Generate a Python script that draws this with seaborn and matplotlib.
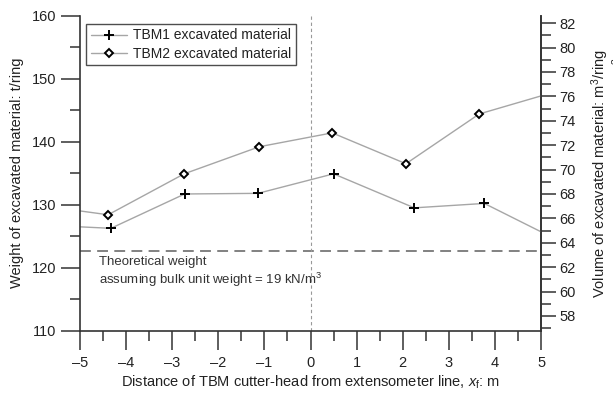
import matplotlib
matplotlib.use("Agg")
import matplotlib.pyplot as plt
from matplotlib.ticker import MultipleLocator
from matplotlib.lines import Line2D
import seaborn as sns
import pandas as pd

# Excavated material per ring (t/ring); end points lie just outside the axis range
tbm1_x = [-5.9, -4.33, -2.73, -1.14, 0.50, 2.25, 3.77, 5.3]
tbm1_w = [126.8, 126.25, 131.7, 131.8, 134.9, 129.5, 130.2, 124.6]
tbm2_x = [-5.99, -4.39, -2.74, -1.11, 0.47, 2.07, 3.66, 5.25]
tbm2_w = [130.0, 128.4, 134.9, 139.2, 141.4, 136.5, 144.4, 147.8]
theoretical_weight = 122.7
bulk_density = 19 / 9.81  # t/m3 for 19 kN/m3

series_labels = ["TBM1 excavated material", "TBM2 excavated material"]

sns.set_style("ticks")
plt.rcParams["font.family"] = ["Liberation Sans", "DejaVu Sans"]
plt.rcParams["mathtext.fontset"] = "custom"
plt.rcParams["mathtext.rm"] = "Liberation Sans"
plt.rcParams["mathtext.it"] = "Liberation Sans:italic"

fig = plt.figure(figsize=(6.13, 3.96), dpi=100)
ax = fig.add_axes([0.1305, 0.1649, 0.7521, 0.7955])

line_col = "#a6a6a6"
plus_kw = dict(marker="+", markersize=7.5, markeredgewidth=1.4,
               markeredgecolor="black", markerfacecolor="black")
diam_kw = dict(marker="D", markersize=4.3, markeredgewidth=1.4,
               markeredgecolor="black", markerfacecolor="white")

df1 = pd.DataFrame({"x": tbm1_x, "w": tbm1_w})
df2 = pd.DataFrame({"x": tbm2_x, "w": tbm2_w})
sns.lineplot(data=df1, x="x", y="w", ax=ax, color=line_col, lw=1.0, sort=False, **plus_kw)
sns.lineplot(data=df2, x="x", y="w", ax=ax, color=line_col, lw=1.0, sort=False, **diam_kw)

ax.axhline(theoretical_weight, color="#777777", lw=1.3, ls=(0, (6, 3.5)), zorder=1)
ax.axvline(0, color="#999999", lw=0.8, ls=(0, (3, 2.5)), zorder=1)

ax.text(-4.59, 121.8, "Theoretical weight\nassuming bulk unit weight = 19 kN/m$^3$",
        fontsize=9.5, color="#333333", va="top", ha="left", linespacing=1.15)

ax.set_xlim(-5, 5)
ax.set_ylim(110, 160)
ax.xaxis.set_major_locator(MultipleLocator(1))
ax.xaxis.set_minor_locator(MultipleLocator(0.5))
ax.yaxis.set_major_locator(MultipleLocator(10))
ax.yaxis.set_minor_locator(MultipleLocator(5))
ax.set_xticklabels([f"{int(v)}".replace("-", "\u2013") for v in ax.get_xticks()])

ax.spines["top"].set_visible(False)
for s in ("left", "bottom", "right"):
    ax.spines[s].set_color("#333333")
    ax.spines[s].set_linewidth(1.2)

ax.tick_params(which="major", direction="out", length=14, width=1.1,
               labelsize=10.5, color="#333333", labelcolor="#222222", pad=3)
ax.tick_params(which="minor", direction="out", length=7, width=1.1, color="#333333")
ax.tick_params(axis="x", which="major", length=14, pad=4)

ax.set_xlabel("Distance of TBM cutter-head from extensometer line, $\\it{x}_\\mathrm{f}$: m",
              fontsize=10.5, color="#222222", labelpad=3)
ax.set_ylabel("Weight of excavated material: t/ring", fontsize=10.5, color="#222222",
              labelpad=6)

sec = ax.secondary_yaxis("right", functions=(lambda w: w / bulk_density,
                                             lambda v: v * bulk_density))
sec.yaxis.set_major_locator(MultipleLocator(2))
sec.yaxis.set_minor_locator(MultipleLocator(1))
sec.tick_params(which="major", direction="out", length=11, width=1.1,
                labelsize=10.5, color="#333333", labelcolor="#222222", pad=2)
sec.tick_params(which="minor", direction="out", length=7, width=1.1, color="#333333")
sec.spines["right"].set_color("#333333")
sec.spines["right"].set_linewidth(1.2)
sec.set_ylabel("Volume of excavated material: m$^3$/ring\n"
               "(assuming bulk unit weight 19 kN/m$^3$)",
               fontsize=10.5, color="#222222", labelpad=10, linespacing=0.95)

handles = [
    Line2D([], [], color=line_col, lw=1.0, **plus_kw),
    Line2D([], [], color=line_col, lw=1.0, **diam_kw),
]
leg = ax.legend(handles, series_labels, loc="upper left", bbox_to_anchor=(0.013, 0.975),
                fontsize=10, frameon=True, fancybox=False, handlelength=2.6,
                handletextpad=0.4, borderpad=0.35, labelspacing=0.3,
                borderaxespad=0)
leg.get_frame().set_edgecolor("#222222")
leg.get_frame().set_linewidth(1.0)
for t in leg.get_texts():
    t.set_color("#222222")

fig.savefig("out.png", dpi=100)
